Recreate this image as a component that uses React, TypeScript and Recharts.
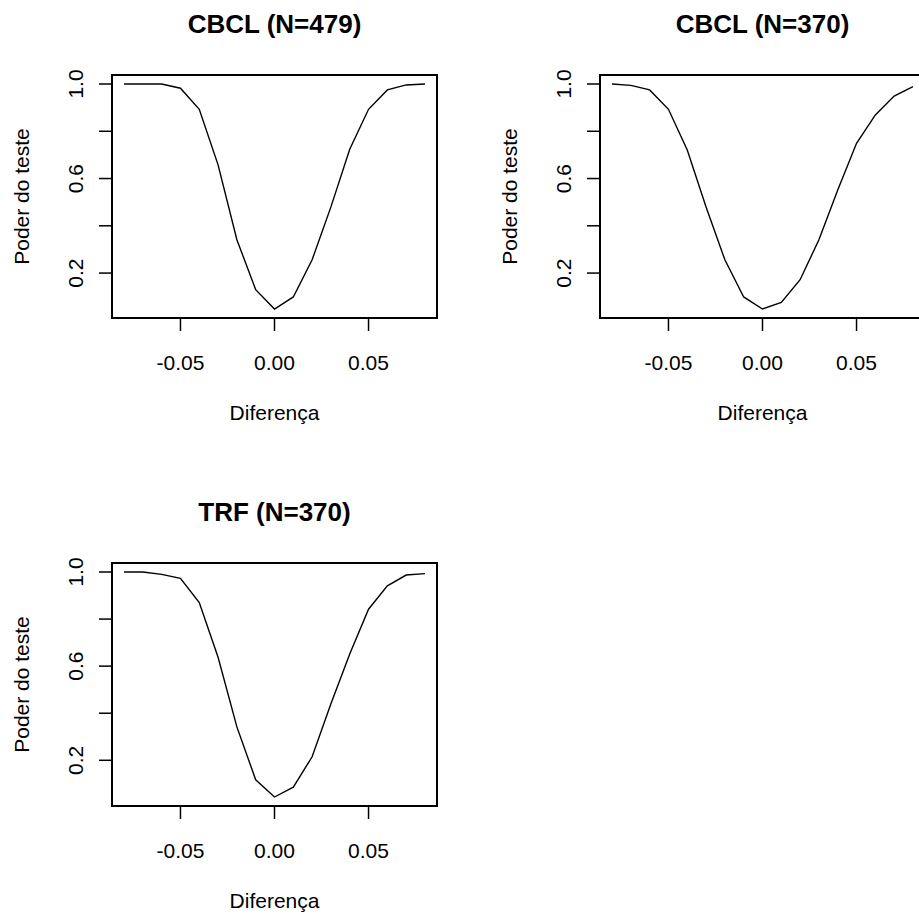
import { LineChart, Line, XAxis, YAxis, ReferenceArea, Label } from 'recharts'

const diffs = [-0.08, -0.07, -0.06, -0.05, -0.04, -0.03, -0.02, -0.01, 0, 0.01, 0.02, 0.03, 0.04, 0.05, 0.06, 0.07, 0.08]
const powerCbcl479 = [1.0, 1.0, 1.0, 0.982, 0.893, 0.658, 0.341, 0.13, 0.048, 0.099, 0.256, 0.48, 0.724, 0.893, 0.975, 0.996, 1.0]
const powerCbcl370 = [1.0, 0.994, 0.975, 0.893, 0.721, 0.48, 0.256, 0.099, 0.048, 0.076, 0.172, 0.341, 0.552, 0.749, 0.869, 0.949, 0.989]
const powerTrf370 = [1.0, 1.0, 0.99, 0.973, 0.87, 0.638, 0.342, 0.117, 0.044, 0.086, 0.215, 0.44, 0.652, 0.842, 0.941, 0.987, 0.993]

const xTicks = [-0.05, 0, 0.05]
const yTicks = [0.2, 0.4, 0.6, 0.8, 1.0]
const yLabeled = ['0.2', '0.6', '1.0']

const FONT = '"Liberation Sans", Arial, sans-serif'
const W = 460
const H = 460

// R-style axis range: data range stretched 4% each side
function rRange(v: number[]): [number, number] {
  const lo = Math.min(...v)
  const hi = Math.max(...v)
  const d = (hi - lo) * 0.04
  return [lo - d, hi + d]
}

function YTick(props: any) {
  const { x, y, payload } = props
  const txt = payload.value.toFixed(1)
  if (!yLabeled.includes(txt)) return null
  return (
    <text x={x} y={y} transform={`rotate(-90 ${x} ${y})`} textAnchor="middle" fontSize={21} fontFamily={FONT} fill="#000">
      {txt}
    </text>
  )
}

function Panel({ title, values, left, top }: { title: string; values: number[]; left: number; top: number }) {
  const data = diffs.map((d, i) => ({ x: d, y: values[i] }))
  const xDom = rRange(diffs)
  const yDom = rRange(values)
  return (
    <div style={{ position: 'absolute', left, top, width: W, height: H }}>
      <div style={{ position: 'absolute', left: 112, top: 0, width: 325, height: 48, lineHeight: '48px', textAlign: 'center', fontFamily: FONT, fontWeight: 'bold', fontSize: 26, color: '#000' }}>
        {title}
      </div>
      <LineChart width={W} height={H} data={data} margin={{ top: 75, right: 23, bottom: 0, left: 0 }}>
        <XAxis
          dataKey="x"
          type="number"
          domain={xDom}
          ticks={xTicks}
          allowDataOverflow
          axisLine={false}
          tickSize={13}
          tickMargin={24}
          tickLine={{ stroke: '#000', strokeWidth: 1.5 }}
          tick={{ fontSize: 21, fontFamily: FONT, fill: '#000' }}
          tickFormatter={(v: number) => v.toFixed(2)}
          height={142}
        >
          <Label value="Diferença" position="insideBottom" offset={40} fontSize={21} fontFamily={FONT} fill="#000" />
        </XAxis>
        <YAxis
          type="number"
          domain={yDom}
          ticks={yTicks}
          allowDataOverflow
          axisLine={false}
          tickSize={13}
          tickMargin={16}
          tickLine={{ stroke: '#000', strokeWidth: 1.5 }}
          tick={<YTick />}
          width={112}
        >
          <Label value="Poder do teste" angle={-90} position="insideLeft" offset={22} fontSize={21} fontFamily={FONT} fill="#000" style={{ textAnchor: 'middle' }} />
        </YAxis>
        <ReferenceArea x1={xDom[0]} x2={xDom[1]} y1={yDom[0]} y2={yDom[1]} fill="none" stroke="#000" strokeWidth={2} fillOpacity={0} ifOverflow="visible" />
        <Line type="linear" dataKey="y" stroke="#000" strokeWidth={1.4} dot={false} isAnimationActive={false} />
      </LineChart>
    </div>
  )
}

export default function App() {
  return (
    <div style={{ position: 'fixed', left: 0, top: 0, width: 919, height: 914, overflow: 'hidden', background: '#fff' }}>
      <Panel title="CBCL (N=479)" values={powerCbcl479} left={0} top={0} />
      <Panel title="CBCL (N=370)" values={powerCbcl370} left={488} top={0} />
      <Panel title="TRF (N=370)" values={powerTrf370} left={0} top={488} />
    </div>
  )
}
